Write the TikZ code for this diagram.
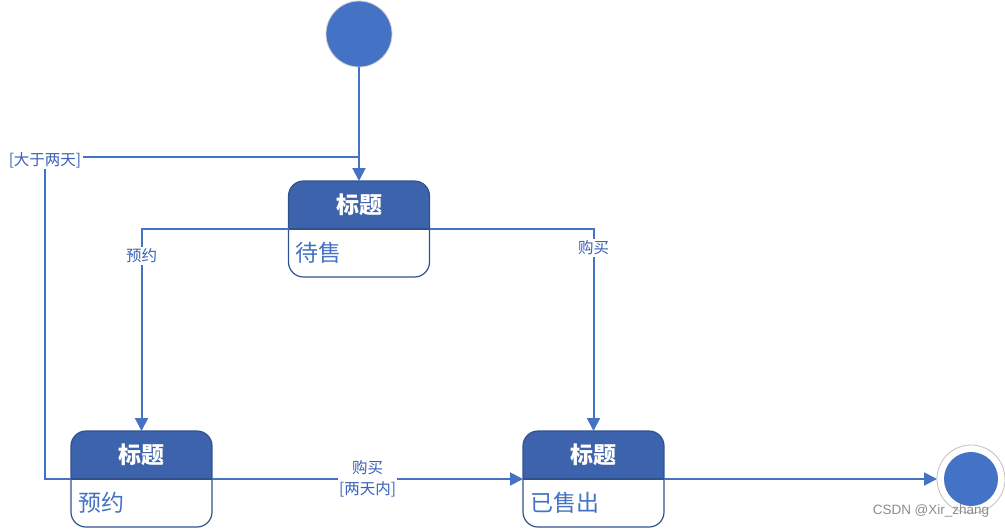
\documentclass[tikz,border=0pt]{standalone}
\usepackage{fontspec}
\setmainfont{Noto Sans CJK SC}
\newfontfamily\wmfont{Liberation Sans}
\usetikzlibrary{arrows.meta,calc}
\definecolor{lineblue}{RGB}{68,114,196}
\definecolor{hdrblue}{RGB}{61,99,173}
\definecolor{edgeblue}{RGB}{47,82,143}
\definecolor{txtblue}{RGB}{58,98,182}
\begin{document}
\begin{tikzpicture}[x=1pt,y=-1pt,
  conn/.style={draw=lineblue, line width=2pt, -{Triangle[length=13pt,width=13pt]}},
  plainline/.style={draw=lineblue, line width=2pt},
  statebox/.style={rectangle, rounded corners=15pt, minimum width=141pt, minimum height=96pt,
    inner sep=0pt, outer sep=0pt, draw=edgeblue, line width=1.2pt, fill=white,
    path picture={\fill[hdrblue, sharp corners] (path picture bounding box.west) rectangle (path picture bounding box.north east);
      \draw[edgeblue, line width=1.2pt, sharp corners] (path picture bounding box.west) -- (path picture bounding box.east);}},
  hdrtxt/.style={text=white, font=\fontsize{23}{26}\selectfont\bfseries, inner sep=0pt},
  bodytxt/.style={text=lineblue, font=\fontsize{23}{27}\selectfont, anchor=west, inner sep=0pt},
  lbl/.style={text=txtblue, font=\fontsize{15.5}{21}\selectfont, fill=white, inner sep=1.5pt, align=center},
  startnode/.style={circle, minimum size=66pt, inner sep=0pt, outer sep=0pt, fill=lineblue, draw=black!18, line width=0.8pt},
  endnode/.style={circle, minimum size=68pt, inner sep=0pt, outer sep=0pt, fill=white, draw=black!25, line width=0.8pt,
    path picture={\fill[lineblue] (path picture bounding box.center) circle (27pt);}}
]
\useasboundingbox (0,0) rectangle (1005,528);

\node[startnode] (start) at (359,34) {};
\node[statebox] (s1) at (359,229) {};
\node[statebox] (s2) at (141.5,479) {};
\node[statebox] (s3) at (593.5,479) {};
\node[endnode] (end) at (971,479) {};

\node[hdrtxt] (s1h) at ([yshift=24pt]s1.center) {标题};
\node[hdrtxt] (s2h) at ([yshift=24pt]s2.center) {标题};
\node[hdrtxt] (s3h) at ([yshift=24pt]s3.center) {标题};
\node[bodytxt] (s1b) at ([xshift=7pt,yshift=-24pt]s1.west) {待售};
\node[bodytxt] (s2b) at ([xshift=7pt,yshift=-24pt]s2.west) {预约};
\node[bodytxt] (s3b) at ([xshift=7pt,yshift=-24pt]s3.west) {已售出};

\coordinate (j) at (359,157);
\coordinate (lc) at (45,479);

\draw[conn] (start) -- (s1.north);
\draw[plainline] (s2.west) -- (lc) |- node[lbl, yshift=-3pt] {[大于两天]} (j);
\draw[conn] (s1.west) -| node[lbl,pos=0.567] {预约} (s2.north);
\draw[conn] (s1.east) -| node[lbl,pos=0.547] {购买} (s3.north);
\draw[conn] (s2.east) -- node[lbl] {购买\\{[两天内]}} (s3.west);
\draw[conn] (s3.east) -- (end);

\node[text=black!45, font=\wmfont\fontsize{13.5}{15}\selectfont, inner sep=0pt] (wm) at (931,511) {CSDN @Xir\_zhang};
\end{tikzpicture}
\end{document}
